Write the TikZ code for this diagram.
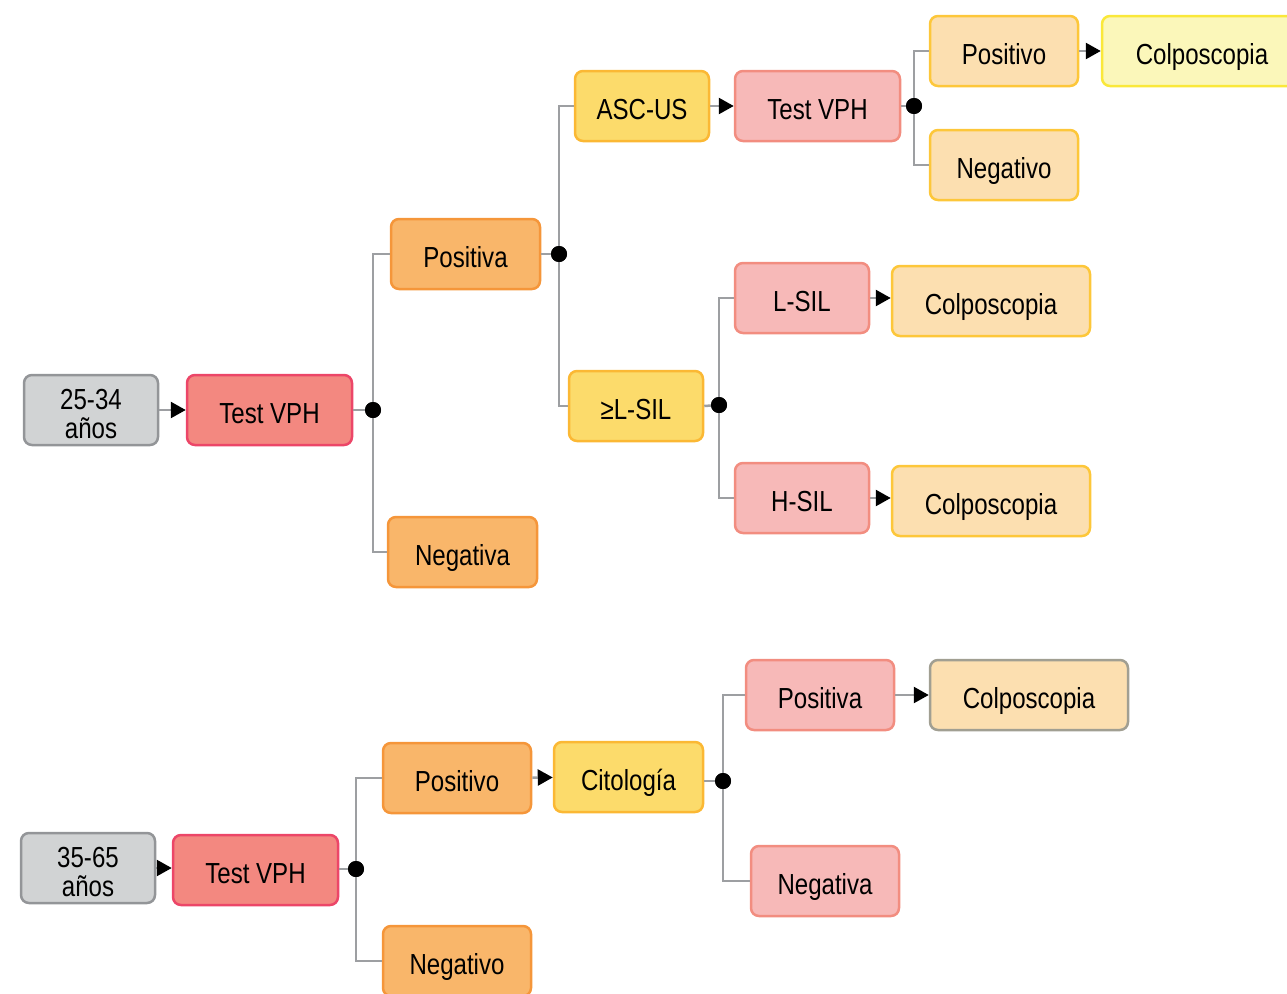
\documentclass[tikz,border=0pt]{standalone}
\usepackage{fontspec}
\setmainfont[FakeStretch=0.83]{Liberation Sans}
\usetikzlibrary{arrows.meta}
\definecolor{grayF}{HTML}{D1D3D4}\definecolor{grayB}{HTML}{939598}
\definecolor{redF}{HTML}{F38880}\definecolor{redB}{HTML}{EC4668}
\definecolor{orgF}{HTML}{F9B66A}\definecolor{orgB}{HTML}{F5963A}
\definecolor{yelF}{HTML}{FCDB6B}\definecolor{yelB}{HTML}{FBB834}
\definecolor{pnkF}{HTML}{F7B9B8}\definecolor{pnkB}{HTML}{F28D80}
\definecolor{pchF}{HTML}{FCDFB0}\definecolor{pchB}{HTML}{FDC73A}
\definecolor{lyF}{HTML}{FBF7BA}\definecolor{lyB}{HTML}{FAE83A}
\definecolor{colB}{HTML}{A19F92}
\definecolor{lineC}{HTML}{9D9FA2}
\tikzset{
  box/.style={rounded corners=8pt, line width=2.5pt, minimum height=70pt, inner sep=0pt, align=center,
    font=\fontsize{29}{27}\selectfont, text height=29pt, text depth=3pt},
  gbox/.style={box, fill=grayF, draw=grayB, font=\fontsize{29}{29}\selectfont, text height=60pt, text depth=3pt},
  rbox/.style={box, fill=redF, draw=redB},
  obox/.style={box, fill=orgF, draw=orgB},
  ybox/.style={box, fill=yelF, draw=yelB},
  pbox/.style={box, fill=pnkF, draw=pnkB},
  cbox/.style={box, fill=pchF, draw=pchB},
  lbox/.style={box, fill=lyF, draw=lyB},
  conn/.style={draw=lineC, line width=2.5pt},
  arr/.style={conn, -{Triangle[length=15pt,width=16pt,color=black,fill=black]}},
  dot/.style={circle, fill=black, inner sep=0pt, minimum size=16pt},
}
\begin{document}
\begin{tikzpicture}[x=1pt,y=-1pt]
\useasboundingbox (0,0) rectangle (1287,993);
% top tree
\node[gbox, minimum width=134pt] (a1) at (91,410) {25-34\\años};
\node[rbox, minimum width=165pt] (t1) at (269.5,410) {Test VPH};
\node[dot] (d1) at (373,410) {};
\node[obox, minimum width=149pt] (pos1) at (465.5,254) {Positiva};
\node[obox, minimum width=149pt] (neg1) at (462.5,552) {Negativa};
\node[dot] (d2) at (559,254) {};
\node[ybox, minimum width=134pt] (asc) at (642,106) {ASC-US};
\node[pbox, minimum width=165pt] (t2) at (817.5,106) {Test VPH};
\node[dot] (d3) at (914,106) {};
\node[cbox, minimum width=148pt] (pos2) at (1004,51) {Positivo};
\node[lbox, minimum width=200pt] (col1) at (1202,51) {Colposcopia};
\node[cbox, minimum width=148pt] (neg2) at (1004,165) {Negativo};
\node[ybox, minimum width=134pt] (lsil) at (636,406) {≥L-SIL};
\node[dot] (d4) at (719,405) {};
\node[pbox, minimum width=134pt] (ls) at (802,298) {L-SIL};
\node[cbox, minimum width=198pt] (col2) at (991,301) {Colposcopia};
\node[pbox, minimum width=134pt] (hs) at (802,498) {H-SIL};
\node[cbox, minimum width=198pt] (col3) at (991,501) {Colposcopia};
% bottom tree
\node[gbox, minimum width=134pt] (a2) at (88,868) {35-65\\años};
\node[rbox, minimum width=165pt] (t3) at (255.5,870) {Test VPH};
\node[dot] (d5) at (356,869) {};
\node[obox, minimum width=148pt] (pos3) at (457,778) {Positivo};
\node[obox, minimum width=148pt] (neg3) at (457,961) {Negativo};
\node[ybox, minimum width=149pt] (cit) at (628.5,777) {Citología};
\node[dot] (d6) at (723,781) {};
\node[pbox, minimum width=148pt] (pos4) at (820,695) {Positiva};
\node[cbox, draw=colB, minimum width=198pt] (col4) at (1029,695) {Colposcopia};
\node[pbox, minimum width=148pt] (neg4) at (825,881) {Negativa};
% connectors
\draw[arr] (a1) -- (t1);
\draw[conn] (t1.east) -- (d1);
\draw[conn] (pos1.west) -| (d1.center);
\draw[conn] (neg1.west) -| (d1.center);
\draw[conn] (pos1.east) -- (d2);
\draw[conn] (asc.west) -| (d2.center);
\draw[conn] (lsil.west) -| (d2.center);
\draw[arr] (asc) -- (t2);
\draw[conn] (t2.east) -- (d3);
\draw[conn] (pos2.west) -| (d3.center);
\draw[conn] (neg2.west) -| (d3.center);
\draw[arr] (pos2) -- (col1.west);
\draw[conn] (lsil.east) -- (d4);
\draw[conn] (ls.west) -| (d4.center);
\draw[conn] (hs.west) -| (d4.center);
\draw[arr] (ls) -- (col2.west |- ls);
\draw[arr] (hs) -- (col3.west |- hs);
\draw[arr] (a2) -- (t3.west |- a2);
\draw[conn] (t3.east |- d5) -- (d5);
\draw[conn] (pos3.west) -| (d5.center);
\draw[conn] (neg3.west) -| (d5.center);
\draw[arr] (pos3) -- (cit);
\draw[conn] (cit.east |- d6) -- (d6);
\draw[conn] (pos4.west) -| (d6.center);
\draw[conn] (neg4.west) -| (d6.center);
\draw[arr] (pos4) -- (col4);
% dots on top
\foreach \d in {d1,d2,d3,d4,d5,d6} \fill (\d) circle (8pt);
\end{tikzpicture}
\end{document}
